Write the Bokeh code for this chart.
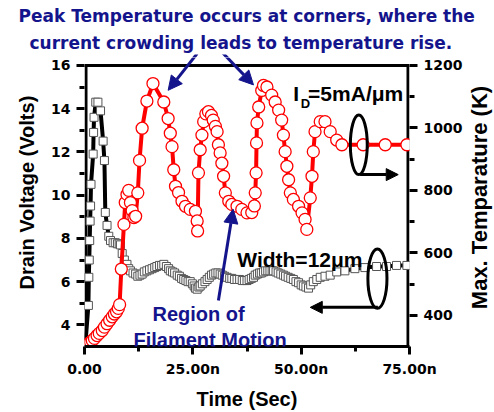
from bokeh.plotting import figure
from bokeh.layouts import column, row
from bokeh.models import (Range1d, LinearAxis, Label, Arrow, NormalHead, Title,
                          FixedTicker, ColumnDataSource)
from bokeh.embed import file_html
from bokeh.resources import INLINE

# Time axis in ns
blk_t = [0.2, 0.9, 1.0, 1.1, 1.2, 1.3, 1.4, 1.5, 2.0, 2.1, 2.2, 2.6, 3.1, 3.7,
         4.3, 4.6, 4.8, 5.2, 5.6, 6.0, 6.6, 7.1, 7.6, 8.0, 8.3, 8.7, 9.2, 9.8,
         10.2, 10.6, 11.2, 11.8, 12.3, 12.8, 13.3, 13.8, 14.4, 15.0, 15.6,
         16.2, 16.7, 17.3, 17.8, 18.3, 18.9, 19.4, 19.8, 20.3, 20.8, 21.4,
         21.9, 22.4, 22.9, 23.4, 23.9, 24.4, 24.9, 25.3, 25.6, 26.0, 26.4,
         26.7, 27.2, 27.8, 28.3, 28.8, 29.3, 29.8, 30.3, 30.8, 31.3, 31.8,
         32.3, 32.9, 33.5, 34.0, 34.6, 35.2, 35.8, 36.4, 36.9, 37.5, 38.0,
         38.5, 39.0, 39.4, 39.9, 40.4, 40.8, 41.3, 41.8, 42.3, 42.8, 43.3,
         43.6, 44.2, 44.7, 45.3, 45.9, 46.4, 47.0, 47.6, 48.2, 48.8, 49.4,
         50.0, 50.5, 51.1, 51.7, 52.2, 52.8, 53.6, 54.4, 55.5, 56.7, 58.2,
         60.1, 62.4, 64.7, 67.4, 69.7, 72.0, 74.4]
# Drain voltage (V)
blk_v = [3.1, 4.9, 6.2, 7.0, 7.9, 8.8, 9.5, 10.5, 11.9, 12.9, 13.6, 14.3, 14.3,
         13.9, 12.5, 11.6, 9.2, 8.6, 8.1, 7.9, 7.8, 7.8, 7.75, 7.75, 7.7, 7.3,
         7.0, 6.8, 6.6, 6.5, 6.4, 6.35, 6.25, 6.3, 6.35, 6.45, 6.5, 6.55, 6.6,
         6.65, 6.7, 6.75, 6.75, 6.8, 6.7, 6.6, 6.5, 6.45, 6.4, 6.3, 6.25,
         6.15, 6.1, 6.05, 6.0, 6.0, 5.9, 5.8, 5.7, 5.65, 5.75, 5.8, 5.9, 6.0,
         6.1, 6.2, 6.3, 6.35, 6.4, 6.4, 6.35, 6.3, 6.25, 6.2, 6.15, 6.15, 6.1,
         6.1, 6.1, 6.05, 6.05, 6.05, 6.1, 6.15, 6.2, 6.3, 6.35, 6.4, 6.4,
         6.45, 6.5, 6.5, 6.5, 6.5, 6.5, 6.45, 6.4, 6.35, 6.3, 6.25, 6.2, 6.15,
         6.1, 6.0, 5.95, 5.85, 5.8, 5.75, 5.7, 5.85, 6.0, 6.1, 6.2, 6.25, 6.3,
         6.45, 6.5, 6.6, 6.65, 6.7, 6.7, 6.75, 6.75]

red_t = [0.0, 0.5, 1.0, 1.4, 1.8, 2.3, 2.9, 3.4, 4.1, 4.6, 5.2, 5.8, 6.4, 6.9,
         7.4, 7.8, 8.1, 8.5, 9.1, 9.4, 9.8, 10.2, 10.6, 11.0, 11.4, 11.8,
         12.3, 12.7, 13.3, 14.4, 15.8, 18.3, 19.3, 19.8, 20.2, 20.6, 21.0,
         21.7, 22.5, 23.3, 24.4, 25.6, 26.0, 26.1, 26.3, 26.7, 27.1, 27.5,
         28.0, 28.6, 29.3, 29.7, 30.2, 30.6, 30.9, 31.3, 31.7, 32.1, 32.5,
         33.3, 34.0, 35.2, 36.3, 37.5, 38.6, 39.2, 39.4, 39.6, 39.7, 39.8,
         40.2, 40.9, 41.3, 42.1, 43.2, 44.0, 44.8, 45.5, 45.9, 46.3, 46.7,
         47.1, 47.5, 48.2, 49.4, 50.2, 50.9, 51.3, 52.1, 52.5, 52.8, 53.2,
         54.4, 55.5, 56.7, 58.2, 59.4, 64.3, 69.4, 74.4]
# Maximum temperature (K)
red_k = [300, 305, 310, 314, 319, 326, 335, 342, 351, 362, 373, 384, 395, 404,
         411, 422, 434, 548, 691, 761, 787, 800, 761, 735, 713, 717, 792, 896,
         999, 1086, 1142, 1083, 1030, 983, 940, 866, 813, 793, 765, 749, 739,
         733, 702, 670, 856, 930, 977, 1020, 1045, 1052, 1040, 1025, 1005, 988,
         946, 920, 887, 845, 792, 765, 755, 749, 739, 728, 729, 750, 792, 856,
         952, 1016, 1067, 1120, 1136, 1131, 1105, 1083, 1057, 1025, 977, 924,
         877, 834, 792, 771, 749, 728, 707, 675, 776, 845, 924, 988, 1020,
         1020, 988, 961, 946, 946, 946, 946]

x_ticks = [0, 25, 50, 75]
x_tick_labels = ["0.00", "25.00n", "50.00n", "75.00n"]
v_ticks = [4, 6, 8, 10, 12, 14, 16]
k_ticks = [400, 600, 800, 1000, 1200]

caption = ["Peak Temperature occurs at corners, where the",
           "current crowding leads to temperature rise."]
v_title = "Drain Voltage (Volts)"
k_title = "Max. Temparature (K)"
t_title = "Time (Sec)"

FONT = "Liberation Sans"
WIDE = "DejaVu Sans"
NAVY = "#14148c"

V_LO, V_HI = 3, 16
K_LO, K_HI = 300, 1200

# geometry: 325 px for 75 ns, 283 px for 13 V; box top sits 65 px from the top
XPX = 325 / 75
YPX = 283 / 13
SPLIT = 57          # header strip height
HEAD_TOP = 54       # caption rows above this line, arrow tails below
EXT = (65 - SPLIT) / YPX   # data-space headroom above the 16 V box line
BOTTOM = 64
LSTRIP, RSTRIP = 44, 29
MAIN_W = 494 - LSTRIP - RSTRIP
MAIN_H = 412 - SPLIT


def bare(fig):
    fig.xgrid.visible = False
    fig.ygrid.visible = False
    fig.outline_line_color = None
    fig.border_fill_color = "white"
    fig.background_fill_color = "white"


# header strip holding the caption and the tails of the call-out arrows
top = figure(width=494, height=SPLIT, x_range=Range1d(0, 75),
             y_range=Range1d(V_HI + EXT, V_HI + (65 - HEAD_TOP) / YPX),
             output_backend="svg", toolbar_location=None,
             x_axis_location=None, y_axis_location=None,
             min_border_left=LSTRIP + 40, min_border_right=RSTRIP + 56,
             min_border_top=HEAD_TOP, min_border_bottom=0)
bare(top)
# closest line first: panels stack outward from the frame
top.add_layout(Title(text=caption[1], align="left", offset=-55, standoff=4,
                     text_font=WIDE, text_font_style="bold", text_font_size="17px",
                     text_color=NAVY), "above")
top.add_layout(Title(text=caption[0], align="left", offset=-66, standoff=6,
                     text_font=WIDE, text_font_style="bold", text_font_size="17px",
                     text_color=NAVY), "above")

p = figure(width=MAIN_W, height=MAIN_H, x_range=Range1d(0, 75),
           y_range=Range1d(V_LO, V_HI + EXT),
           output_backend="svg", toolbar_location=None,
           min_border_left=40, min_border_right=56, min_border_top=0,
           min_border_bottom=BOTTOM)
p.extra_y_ranges = {"temp": Range1d(K_LO, K_HI + EXT * (K_HI - K_LO) / (V_HI - V_LO))}
bare(p)

right = LinearAxis(y_range_name="temp")
p.add_layout(right, "right")

p.xaxis.ticker = FixedTicker(ticks=x_ticks, minor_ticks=[12.5, 37.5, 62.5])
p.xaxis.major_label_overrides = dict(zip(x_ticks, x_tick_labels))
p.yaxis[0].ticker = FixedTicker(ticks=v_ticks, minor_ticks=[5, 7, 9, 11, 13, 15])
right.ticker = FixedTicker(ticks=k_ticks, minor_ticks=[500, 700, 900, 1100])
p.xaxis.axis_label = t_title

for ax in [p.xaxis[0], p.yaxis[0], right]:
    ax.axis_line_width = 3
    ax.major_tick_line_width = 3
    ax.minor_tick_line_width = 3
    ax.major_tick_in = 0
    ax.major_tick_out = 8
    ax.minor_tick_in = 0
    ax.minor_tick_out = 5
    ax.major_label_text_font = WIDE
    ax.major_label_text_font_style = "bold"
    ax.major_label_text_font_size = "14px"
    ax.major_label_text_color = "black"
    ax.axis_label_text_font = FONT
    ax.axis_label_text_font_style = "bold"
    ax.axis_label_text_font_size = "20px"
    ax.axis_label_text_color = "black"
    ax.major_label_standoff = 6
p.xaxis.axis_label_standoff = 8
# side box lines are drawn below so they stop at the 16 V line
p.yaxis[0].axis_line_color = None
right.axis_line_color = None

# box: left, right and top edges
half = 1.5 / XPX
p.segment(x0=[half, 75 - half, 0], y0=[V_LO, V_LO, V_HI],
          x1=[half, 75 - half, 75], y1=[V_HI, V_HI, V_HI],
          line_color="black", line_width=3)

# drain voltage trace
blk = ColumnDataSource(dict(t=blk_t, v=blk_v))
p.line("t", "v", source=blk, line_color="black", line_width=4)
p.scatter("t", "v", source=blk, marker="square", size=8, fill_color="white",
          line_color="#555555", line_width=1)

# temperature trace
red = ColumnDataSource(dict(t=red_t, k=red_k))
p.line("t", "k", source=red, y_range_name="temp", line_color="#ff0000", line_width=4)
p.scatter("t", "k", source=red, y_range_name="temp", marker="circle", size=12,
          fill_color="white", line_color="#ff0000", line_width=1.3)

# axis pointers: ellipses with arrows
p.ellipse(x=[63.3, 67.6], y=[12.33, 6.14], width=[3.9, 4.4], height=[2.75, 2.75],
          fill_color=None, line_color="black", line_width=3)
p.add_layout(Arrow(x_start=63.6, y_start=10.95, x_end=72.4, y_end=10.95,
                   line_color="black", line_width=3,
                   end=NormalHead(size=12, fill_color="black", line_color="black")))
p.add_layout(Arrow(x_start=67.7, y_start=4.81, x_end=52.1, y_end=4.81,
                   line_color="black", line_width=3,
                   end=NormalHead(size=12, fill_color="black", line_color="black")))

# navy call-out arrows (the two from the caption cross into the header strip)
callouts = [(26.0, 16.55, 19.3, 14.85), (31.8, 16.6, 39.0, 15.1)]
for fig in (top, p):
    for xs, ys, xe, ye in callouts:
        fig.add_layout(Arrow(x_start=xs, y_start=ys, x_end=xe, y_end=ye,
                             line_color=NAVY, line_width=3,
                             end=NormalHead(size=14, fill_color=NAVY, line_color=NAVY)))
p.add_layout(Arrow(x_start=30.9, y_start=5.13, x_end=34.3, y_end=9.35,
                   line_color=NAVY, line_width=3,
                   end=NormalHead(size=14, fill_color=NAVY, line_color=NAVY)))


def label(fig, x, y, text, size, color="black", align="left", font=FONT,
          angle=0.0, baseline="alphabetic"):
    fig.add_layout(Label(x=x, y=y, text=text, text_font=font, text_font_style="bold",
                         text_font_size=size, text_color=color, text_align=align,
                         text_baseline=baseline, angle=angle))


label(p, 48.2, 14.72, "I", "21px")
label(p, 49.9, 14.26, "D", "13px")
label(p, 51.6, 14.72, "=5mA/\u03bcm", "21px")
label(p, 35.25, 7.02, "Width=12\u03bcm", "21px")
label(p, 15.7, 4.49, "Region of", "20px", NAVY)
label(p, 11.3, 3.31, "Filament Motion", "20px", NAVY)


# side strips carrying the vertical axis titles, both reading upwards
def strip(w):
    s = figure(width=w, height=MAIN_H, x_range=Range1d(0, w),
               y_range=Range1d(V_LO, V_HI + EXT), output_backend="svg",
               toolbar_location=None, x_axis_location=None, y_axis_location=None,
               min_border_left=0, min_border_right=0, min_border_top=0,
               min_border_bottom=BOTTOM)
    bare(s)
    return s


lft = strip(LSTRIP)
label(lft, 26, V_HI - (193 - 65) / YPX, v_title, "20px", align="center",
      angle=1.5707963267948966, baseline="middle")
rgt = strip(RSTRIP)
label(rgt, 13.5, V_HI - (198 - 65) / YPX, k_title, "22px", align="center",
      angle=1.5707963267948966, baseline="middle")

layout = column(top, row(lft, p, rgt, spacing=0), spacing=0)
open("out.html", "w").write(file_html(layout, INLINE))
